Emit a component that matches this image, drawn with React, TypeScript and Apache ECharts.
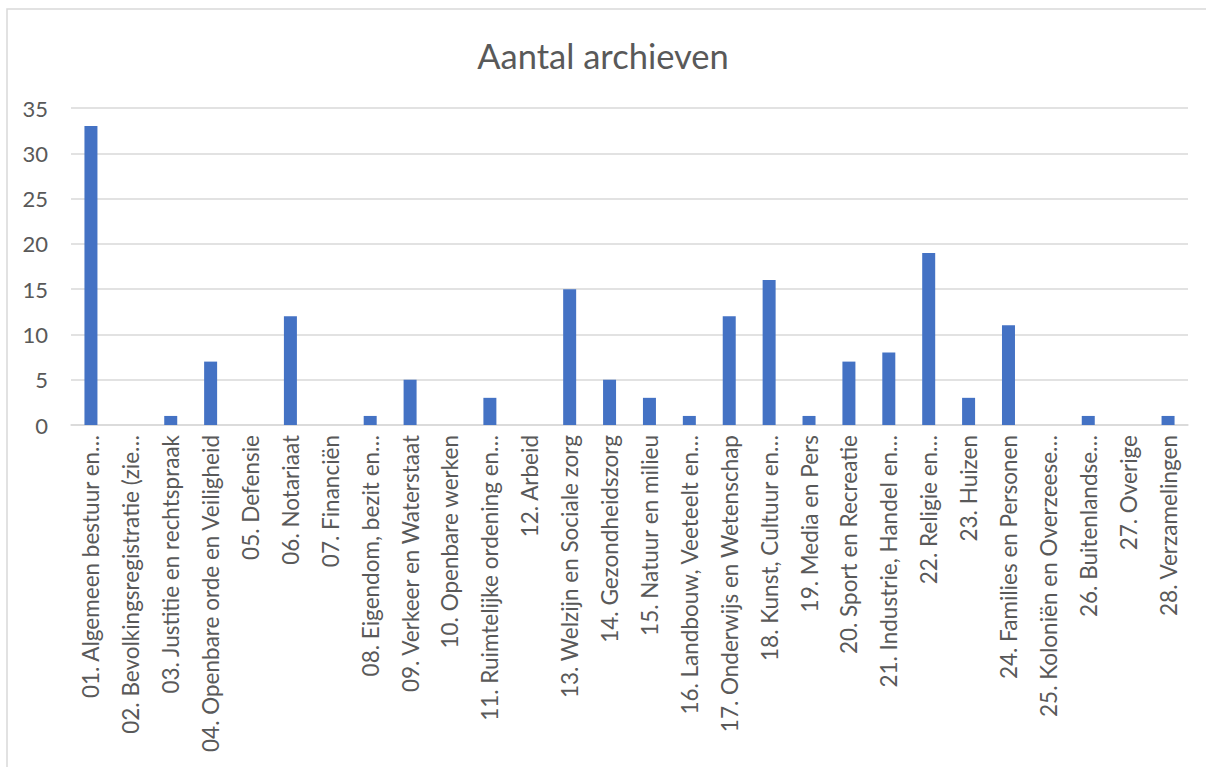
import React, { useEffect, useRef } from "react";
import * as echarts from "echarts";

const categories: string[] = [
  "01. Algemeen bestuur en…",
  "02. Bevolkingsregistratie (zie…",
  "03. Justitie en rechtspraak",
  "04. Openbare orde en Veiligheid",
  "05. Defensie",
  "06. Notariaat",
  "07. Financiën",
  "08. Eigendom, bezit en…",
  "09. Verkeer en Waterstaat",
  "10. Openbare werken",
  "11. Ruimtelijke ordening en…",
  "12. Arbeid",
  "13. Welzijn en Sociale zorg",
  "14. Gezondheidszorg",
  "15. Natuur en milieu",
  "16. Landbouw, Veeteelt en…",
  "17. Onderwijs en Wetenschap",
  "18. Kunst, Cultuur en…",
  "19. Media en Pers",
  "20. Sport en Recreatie",
  "21. Industrie, Handel en…",
  "22. Religie en…",
  "23. Huizen",
  "24. Families en Personen",
  "25. Koloniën en Overzeese…",
  "26. Buitenlandse…",
  "27. Overige",
  "28. Verzamelingen",
];

const values: number[] = [
  33, 0, 1, 7, 0, 12, 0, 1, 5, 0, 3, 0, 15, 5, 3, 1, 12, 16, 1, 7, 8, 19, 3, 11, 0, 1, 0, 1,
];

const titleText = "Aantal archieven";

export default function App() {
  const ref = useRef<HTMLDivElement>(null);
  useEffect(() => {
    if (!ref.current) return;
    const chart = echarts.init(ref.current, undefined, { renderer: "svg" });
    const font = "Lato, 'Open Sans', sans-serif";
    chart.setOption({
      animation: false,
      backgroundColor: "#ffffff",
      graphic: [
        {
          type: "rect",
          shape: { x: 7, y: 9, width: 1210, height: 770 },
          style: { fill: "none", stroke: "#d9d9d9", lineWidth: 1.5 },
          silent: true,
        },
      ],
      title: {
        text: titleText,
        left: "center",
        top: 33,
        textStyle: {
          fontFamily: font,
          fontSize: 34.5,
          fontWeight: "normal",
          color: "#595959",
        },
      },
      grid: { left: 71, right: 18, top: 108, bottom: 342, containLabel: false },
      xAxis: {
        type: "category",
        data: categories,
        axisLine: { show: true, lineStyle: { color: "#d9d9d9", width: 1.5 } },
        axisTick: { show: false },
        axisLabel: {
          interval: 0,
          rotate: 90,
          margin: 10,
          color: "#595959",
          fontFamily: font,
          fontSize: 22.5,
        },
      },
      yAxis: {
        type: "value",
        min: 0,
        max: 35,
        interval: 5,
        axisLine: { show: false },
        axisTick: { show: false },
        splitLine: { lineStyle: { color: "#d9d9d9", width: 1.5 } },
        axisLabel: {
          margin: 23,
          color: "#595959",
          fontFamily: font,
          fontSize: 22,
        },
      },
      series: [
        {
          type: "bar",
          data: values,
          barWidth: 13,
          itemStyle: { color: "#4472C4" },
        },
      ],
    });
    return () => chart.dispose();
  }, []);
  return (
    <div
      ref={ref}
      style={{ position: "fixed", left: 0, top: 0, width: 1206, height: 767 }}
    />
  );
}
